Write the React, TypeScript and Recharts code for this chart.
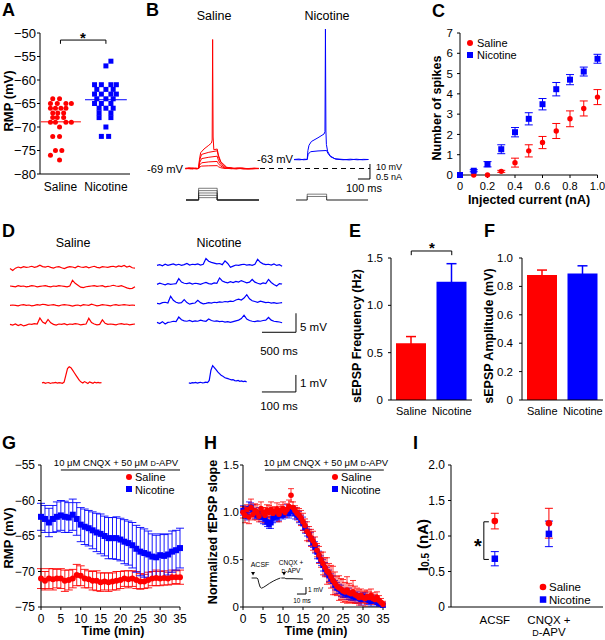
import React from "react"
import {
  ScatterChart, Scatter, LineChart, Line, ComposedChart, Bar,
  XAxis, YAxis, ErrorBar, ReferenceLine,
} from "recharts"

const FONT = '"Liberation Sans", Arial, Helvetica, sans-serif'
const RED = "#ff0000"
const BLUE = "#0000ff"

// ---------- A: RMP of single cells
const groups = ["Saline", "Nicotine"]
const salineRmp = [-64,-64,-65,-65,-65,-65,-66,-66,-66,-66,-67,-67,-67,-68,-68,-68,-69,-69,-69,-69,-70,-72,-72,-75,-75,-76,-77]
const salineJitter = [0.83,0.98,0.78,0.93,1.12,1.24,0.78,0.89,1.01,1.12,0.83,0.94,1.07,0.83,0.93,1.07,0.78,0.89,1.12,1.24,0.98,0.83,0.98,0.89,1.03,0.78,0.98]
const nicotineRmp = [-56,-57,-61,-61,-61,-61,-62,-62,-62,-63,-63,-63,-63,-64,-64,-64,-65,-65,-65,-66,-66,-66,-67,-67,-68,-68,-70,-72,-72]
const nicotineJitter = [2.11,2.0,1.75,1.9,2.11,2.23,1.8,2.0,2.16,1.75,1.9,2.11,2.23,1.8,2.0,2.16,1.75,1.9,2.11,1.85,2.0,2.16,1.85,2.11,1.85,2.11,2.0,1.9,2.06]
const rmpMeans = [-68.9, -64.2]

// ---------- B: example sweeps (ms, mV) and current steps (nA)
const salineSweeps = [
  [[45,-69],[75,-68.6],[105,-69.3],[130,-68.8],[155,-69],[163,-68.1],[180,-67.4],[240,-67.2],[310,-67.1],[320,-67.8],[340,-68.5],[375,-69],[420,-68.6],[470,-69.3],[520,-68.8],[575,-69.2],[620,-68.7],[658,-69]],
  [[45,-69.2],[80,-69],[110,-68.7],[140,-69.3],[155,-69],[163,-66.8],[180,-65.2],[240,-64.6],[310,-64.3],[320,-65.8],[340,-67.5],[375,-68.7],[430,-69.2],[480,-68.7],[530,-69.3],[590,-68.9],[658,-69.1]],
  [[45,-68.8],[90,-69.3],[120,-68.9],[155,-69],[163,-65.2],[180,-62.4],[240,-61.5],[310,-60.8],[320,-63.5],[340,-66.3],[380,-68.5],[440,-69],[500,-68.6],[560,-69.3],[658,-68.9]],
  [[45,-69],[85,-68.7],[125,-69.2],[155,-69],[163,-63.5],[180,-59.6],[240,-58.2],[310,-57.2],[320,-61],[340,-65],[385,-68.3],[450,-69.2],[510,-68.8],[600,-69.2],[658,-69]],
  [[45,-69.1],[100,-68.8],[155,-69],[162,-63],[172,-58.5],[200,-56],[240,-53.5],[262,-52],[268,-50],[272,17],[276,-48],[282,-56.5],[310,-56],[320,-60],[340,-64.5],[390,-68.2],[460,-68.9],[540,-69.2],[658,-69]],
]
const nicotineSweeps = [
  [[950,-63],[990,-62.7],[1030,-63.2],[1060,-63],[1068,-59.5],[1088,-57.8],[1150,-57.3],[1222,-57],[1232,-58.8],[1255,-61.2],[1300,-62.8],[1360,-63.2],[1420,-62.8],[1480,-63.2],[1530,-62.9],[1570,-63]],
  [[950,-63.1],[1000,-63.2],[1040,-62.8],[1060,-63],[1066,-57],[1075,-53.5],[1095,-51],[1150,-48.5],[1200,-46],[1208,-44.5],[1212,24],[1216,-44],[1220,-53],[1230,-57.5],[1250,-60.5],[1290,-62.5],[1350,-62.9],[1410,-63.3],[1470,-62.8],[1520,-63.2],[1570,-63]],
]
const salineSteps = [0.1, 0.2, 0.3, 0.4, 0.5]
const nicotineSteps = [0.15, 0.25]
const salineWindow = [50, 155, 310, 658]
const nicotineWindow = [967, 1060, 1222, 1567]

// ---------- C: input-output
const currentSteps = [0, 0.1, 0.2, 0.3, 0.4, 0.5, 0.6, 0.7, 0.8, 0.9, 1.0]
const salineSpikes = [0, 0, 0, 0.18, 0.61, 1.19, 1.6, 2.17, 2.77, 3.28, 3.84]
const salineSpikesErr = [0, 0, 0, 0.05, 0.22, 0.3, 0.3, 0.37, 0.39, 0.37, 0.37]
const nicotineSpikes = [0, 0.21, 0.53, 1.27, 2.11, 2.77, 3.49, 4.23, 4.7, 5.1, 5.73]
const nicotineSpikesErr = [0, 0.05, 0.13, 0.22, 0.23, 0.3, 0.28, 0.33, 0.25, 0.22, 0.22]

// ---------- D: sEPSP recordings, mV deviation sampled every 40 ms
const D_DT = 40
const salineTraces = [
  [-0.3,-0.8,-0.2,0.1,-0.1,0.2,0.0,0.1,0.3,0.0,0.2,0.6,0.2,0.1,0.3,0.0,-0.2,0.1,0.2,-0.1,-0.3,0.0,0.2,0.1,-0.1,0.3,0.1,0.0,0.2,-0.1,0.1,0.3,0.0,-0.1,0.2,0.1,0.0,0.2,0.3,0.1,0.4,0.2,0.5,0.1,0.3,-0.1,-0.2],
  [0.1,0.0,-0.1,0.2,0.0,0.1,-0.1,0.0,0.2,0.1,-0.1,0.0,0.1,0.2,0.0,-0.1,0.1,0.0,0.2,0.1,0.0,-0.1,0.1,1.6,0.8,0.3,-0.2,-0.3,-0.1,0.0,0.1,0.2,0.0,0.1,0.2,-0.1,0.0,0.1,0.3,0.1,0.0,0.2,-0.1,-0.4,-0.6,-0.5,-0.1],
  [0.0,0.1,0.0,-0.1,0.1,0.2,0.0,0.1,-0.1,0.0,0.2,0.1,0.3,0.2,0.0,0.1,0.2,0.0,-0.1,0.1,0.2,0.1,0.0,-0.2,0.0,0.1,-0.1,0.2,0.1,0.0,0.3,0.1,-0.1,0.0,0.2,0.1,0.0,-0.1,0.1,0.2,0.0,0.1,0.2,0.1,0.0,0.1,0.0],
  [0.0,-0.2,0.1,-0.3,0.0,-0.4,-0.2,0.1,0.0,0.2,0.1,1.7,0.6,0.2,1.3,0.4,0.0,-0.2,0.1,0.0,0.2,-0.1,0.1,0.0,0.2,0.1,-0.1,0.0,0.1,1.6,0.5,0.1,-0.1,0.0,1.2,0.3,0.0,0.1,0.0,-0.1,0.1,0.2,0.0,0.1,-0.1,0.0,0.1],
]
const nicotineTraces = [
  [0.0,0.2,-0.1,0.3,0.0,0.2,0.4,0.1,0.3,0.0,0.2,0.5,0.1,0.3,0.2,0.4,0.1,0.3,1.8,1.1,0.8,0.6,0.4,0.5,0.2,1.2,0.5,-0.5,-0.2,0.1,0.0,0.2,0.3,0.1,0.2,0.0,0.3,1.6,0.8,0.4,0.2,0.3,0.1,0.4,0.0,0.2,-0.2],
  [0.0,0.3,0.1,-0.1,0.2,0.0,0.1,0.2,1.5,0.6,0.3,0.2,0.4,0.1,0.3,0.2,0.0,0.3,0.5,0.2,0.1,0.4,0.3,1.7,0.9,0.6,0.4,0.7,0.5,0.8,0.6,1.0,0.7,0.4,0.6,1.3,0.6,0.3,0.1,0.4,0.2,1.3,0.5,0.0,-0.4,0.2,0.1],
  [0.0,-0.1,0.2,0.3,0.1,1.9,0.8,0.3,0.1,0.2,1.0,0.2,-0.2,0.0,0.1,0.8,0.2,-0.1,0.0,0.2,0.1,0.3,0.2,0.4,0.3,0.5,0.4,0.6,0.5,0.9,1.1,0.9,1.4,2.3,1.2,0.7,0.5,0.3,0.6,0.4,0.2,0.3,0.1,0.2,0.0,0.1,0.2],
  [0.0,-0.3,0.2,-0.4,0.0,0.1,0.3,0.2,1.4,0.7,0.4,0.3,0.5,0.2,0.4,0.3,0.6,0.4,0.3,0.9,0.5,0.3,0.4,0.2,0.3,0.1,0.2,0.0,0.2,0.4,0.6,1.0,1.9,0.9,0.5,0.3,0.2,0.4,0.3,0.5,0.6,1.3,0.6,0.3,0.2,0.1,-0.1],
]
// averaged sEPSP, every 5 ms
const AVG_DT = 5
const AVG_NIC_START = 432
const salineAvg = [0.0,0.03,-0.02,0.01,0.02,-0.03,0.01,0.0,0.03,-0.01,0.02,0.0,-0.02,0.05,0.45,0.85,0.95,0.9,0.75,0.6,0.45,0.3,0.15,0.05,0.0,0.08,0.03,-0.03,0.06,0.02,-0.02,0.05,0.0,0.03,0.01,0.02]
const nicotineAvg = [0.0,-0.02,0.02,0.0,0.03,-0.01,0.02,0.04,0.0,0.02,0.05,0.02,0.15,0.75,1.02,0.9,0.78,0.65,0.55,0.45,0.4,0.32,0.28,0.25,0.22,0.18,0.2,0.14,0.12,0.15,0.1,0.12,0.08,0.1,0.06]

// ---------- E / F
const freqMeans = [0.6, 1.25]
const freqErr = [0.07, 0.19]
const ampMeans = [0.88, 0.89]
const ampErr = [0.035, 0.055]

// ---------- G: RMP time course (1 min bins)
const gSalineRmp = [-71.0,-71.3,-71.0,-71.1,-71.0,-71.0,-71.3,-71.2,-71.0,-70.5,-70.6,-71.0,-71.1,-71.3,-71.3,-71.5,-71.4,-71.5,-71.4,-71.3,-71.2,-71.0,-71.1,-71.0,-71.2,-71.4,-71.4,-71.2,-71.0,-70.9,-71.0,-70.9,-71.0,-70.8,-70.8,-70.8]
const gSalineErr = [1.4,1.3,1.4,1.5,1.3,1.4,1.5,1.4,1.3,1.5,1.4,1.3,1.2,1.3,1.4,1.3,1.2,1.3,1.2,1.3,1.2,1.1,1.2,1.1,1.2,1.1,1.0,1.1,1.0,1.1,1.0,1.0,0.9,1.0,0.9,1.0]
const gNicotineRmp = [-62.3,-62.6,-63.1,-62.6,-62.3,-62.1,-62.3,-62.4,-62.0,-62.6,-63.4,-63.7,-63.9,-64.2,-64.5,-64.7,-65.0,-65.3,-65.3,-65.3,-65.5,-65.8,-66.0,-66.3,-66.8,-67.2,-67.4,-67.6,-67.9,-68.0,-67.7,-67.8,-67.6,-67.2,-67.0,-66.7]
const gNicotineErr = [1.9,1.9,2.0,1.9,2.1,2.1,2.2,2.1,2.2,2.3,2.4,2.5,2.5,2.6,2.7,2.8,2.8,2.9,2.9,3.0,3.0,3.1,3.1,3.2,3.3,3.4,3.4,3.3,3.2,3.1,3.0,3.0,2.9,2.9,2.8,2.8]

// ---------- H: normalized fEPSP slope (0.5 min bins)
const hSaline = [1.00,0.97,1.03,0.95,1.05,0.98,1.02,1.00,0.96,1.04,1.00,0.97,1.02,1.00,1.03,0.99,1.01,1.03,0.98,1.02,1.04,1.00,1.03,1.06,1.18,1.05,1.02,0.99,0.97,0.94,0.90,0.86,0.80,0.77,0.73,0.70,0.66,0.60,0.55,0.50,0.46,0.42,0.38,0.36,0.32,0.28,0.25,0.22,0.20,0.19,0.17,0.16,0.18,0.15,0.14,0.16,0.13,0.12,0.10,0.12,0.10,0.09,0.11,0.10,0.12,0.09,0.08,0.10,0.07,0.05,0.03]
const hSalineErr = [0.06,0.08,0.05,0.07,0.09,0.06,0.07,0.08,0.06,0.07,0.05,0.08,0.06,0.07,0.08,0.06,0.05,0.07,0.08,0.06,0.07,0.05,0.06,0.07,0.07,0.06,0.05,0.06,0.07,0.08,0.09,0.07,0.10,0.08,0.09,0.10,0.08,0.07,0.09,0.08,0.12,0.10,0.14,0.10,0.12,0.15,0.12,0.10,0.13,0.11,0.12,0.10,0.14,0.10,0.09,0.12,0.09,0.08,0.08,0.07,0.06,0.08,0.07,0.06,0.07,0.06,0.05,0.06,0.05,0.04,0.03]
const hNicotine = [1.02,1.00,0.96,1.04,1.05,1.02,0.98,0.97,0.99,0.95,0.95,0.93,0.90,0.87,0.89,0.94,0.96,0.95,0.97,0.99,0.97,1.00,1.02,0.99,1.03,1.01,0.99,0.97,0.95,0.92,0.88,0.84,0.80,0.76,0.72,0.68,0.63,0.58,0.53,0.49,0.44,0.40,0.37,0.33,0.30,0.27,0.23,0.20,0.19,0.17,0.15,0.14,0.13,0.14,0.12,0.11,0.10,0.12,0.09,0.08,0.10,0.11,0.08,0.07,0.06,0.08,0.07,0.05,0.04,0.03,0.02]
const hNicotineErr = [0.05,0.06,0.04,0.07,0.05,0.06,0.05,0.04,0.06,0.05,0.07,0.06,0.05,0.04,0.06,0.05,0.04,0.05,0.06,0.05,0.04,0.05,0.06,0.05,0.04,0.05,0.06,0.05,0.06,0.05,0.07,0.06,0.05,0.06,0.07,0.05,0.06,0.07,0.06,0.05,0.06,0.07,0.05,0.06,0.05,0.06,0.05,0.06,0.05,0.06,0.05,0.04,0.05,0.06,0.05,0.04,0.05,0.04,0.05,0.06,0.05,0.04,0.05,0.04,0.05,0.04,0.03,0.04,0.03,0.02,0.02]
// inset: example fEPSPs (ms, mV)
const acsfTrace = [[4,0],[10,0],[11,-0.15],[12,-0.7],[13.5,-1.3],[15,-1.45],[17,-1.35],[20,-1.1],[24,-0.75],[28,-0.45],[32,-0.2],[36,0]]
const cnqxTrace = [[37,0],[41,0],[42,-0.1],[50,-0.1],[61,-0.15]]
const stimTimes = [5.6, 40]

// ---------- I: half-max current
const iConditions = [["ACSF"], ["CNQX +", "D-APV"]]
const iSaline = [1.21, 1.18]
const iSalineErr = [0.11, 0.21]
const iNicotine = [0.68, 1.03]
const iNicotineErr = [0.1, 0.18]

// ---------- helpers
const PAD = 8
function frame(x0: number, y0: number, x1: number, y1: number, yw = 0, xh = 0) {
  return {
    style: { position: "absolute" as const, left: x0 - yw - PAD, top: y0 - PAD },
    width: x1 - x0 + yw + 2 * PAD,
    height: y1 - y0 + xh + 2 * PAD,
    margin: { top: PAD, right: PAD, bottom: PAD, left: PAD },
  }
}
const sz = (f: any) => ({ width: f.width, height: f.height, margin: f.margin })
const tk = (s: number) => ({ fontSize: s, fill: "#000", fontFamily: FONT })
const neg = (v: number) => (v < 0 ? "\u2212" + Math.abs(v) : String(v))
const dec1 = (v: number) => (v === 0 ? "0" : v.toFixed(1))
const dot = (fill: string, r: number) => (p: any) => <circle cx={p.cx} cy={p.cy} r={r} fill={fill} />
const square = (fill: string, s: number) => (p: any) => (
  <rect x={p.cx - s / 2} y={p.cy - s / 2} width={s} height={s} fill={fill} />
)
const downTri = (p: any) => (
  <polygon points={`${p.cx - 2},${p.cy - 2} ${p.cx + 2},${p.cy - 2} ${p.cx},${p.cy + 1.5}`} fill="#000" />
)
const seg = (x1: any, y1: number, x2: any, y2: number, extra: any = {}) => (
  <ReferenceLine segment={[{ x: x1, y: y1 }, { x: x2, y: y2 }]} stroke="#000" strokeWidth={1} ifOverflow="visible" {...extra} />
)
const pts = (arr: number[][]) => arr.map(([t, v]) => ({ t, v }))
const steps = (levels: number[], w: number[]) =>
  levels.map((L) => [[w[0], 0], [w[1], 0], [w[1], L], [w[2], L], [w[2], 0], [w[3], 0]])

const Txt = ({ x, y, s = 12, b = false, a = "start", r = false, children }: any) => (
  <text x={x} y={y} fontSize={s} fontWeight={b ? "bold" : "normal"} textAnchor={a} fontFamily={FONT} fill="#000"
    transform={r ? `rotate(-90 ${x} ${y})` : undefined} dominantBaseline={r ? "central" : undefined}>
    {children}
  </text>
)
const DApv = ({ s }: any) => (<><tspan fontSize={s * 0.78}>D</tspan>-APV</>)

const ITick = (p: any) => {
  const lines = iConditions[Math.round(p.payload.value) - 1] || []
  return (
    <g>
      {lines.map((l, i) => (
        <text key={i} x={p.x} y={p.y + 12 + i * 11.5} textAnchor="middle" fontSize={11.5} fontFamily={FONT} fill="#000">
          {l === "D-APV" ? <DApv s={11.5} /> : l}
        </text>
      ))}
    </g>
  )
}

// ---------- series
const aSal = salineRmp.map((y, i) => ({ x: salineJitter[i], y }))
const aNic = nicotineRmp.map((y, i) => ({ x: nicotineJitter[i], y }))
const cSal = currentSteps.map((x, i) => ({ x, y: salineSpikes[i], err: salineSpikesErr[i] }))
const cNic = currentSteps.map((x, i) => ({ x, y: nicotineSpikes[i], err: nicotineSpikesErr[i] }))
const freqRows = [
  { name: groups[0], sal: freqMeans[0], salErr: freqErr[0] },
  { name: groups[1], nic: freqMeans[1], nicErr: freqErr[1] },
]
const ampRows = [
  { name: groups[0], sal: ampMeans[0], salErr: ampErr[0] },
  { name: groups[1], nic: ampMeans[1], nicErr: ampErr[1] },
]
const gSal = gSalineRmp.map((y, i) => ({ x: i, y, err: gSalineErr[i] }))
const gNic = gNicotineRmp.map((y, i) => ({ x: i, y, err: gNicotineErr[i] }))
const hSal = hSaline.map((y, i) => ({ x: i * 0.5, y, err: hSalineErr[i] }))
const hNic = hNicotine.map((y, i) => ({ x: i * 0.5, y, err: hNicotineErr[i] }))
const iSal = iSaline.map((y, i) => ({ x: i + 1, y, err: iSalineErr[i] }))
const iNic = iNicotine.map((y, i) => ({ x: i + 1, y, err: iNicotineErr[i] }))

// ---------- frames (plot rectangles in page pixels)
const fA = frame(40, 33, 130, 174, 34, 22)
const fB = frame(180, 20, 384, 179)
const fBi = frame(180, 185, 384, 200)
const fC = frame(460, 33, 597.5, 175, 22, 22)
const fDr = frame(10, 255.6, 135, 335.4)
const fDb = frame(157, 253.6, 300, 333.4)
const fDa = frame(42, 360.05, 300, 394.9)
const fE = frame(391, 258, 472, 400, 34, 20)
const fF = frame(522, 258, 603, 400, 34, 20)
const fG = frame(41, 465, 180, 607, 34, 22)
const fH = frame(243, 465, 383, 607, 30, 22)
const fHi = frame(248, 571, 312, 599)
const fI = frame(451, 465, 603, 607, 30, 34)

const line = (data: any, color: string, key: any, w = 1) => (
  <Line key={key} data={data} dataKey="v" stroke={color} strokeWidth={w} dot={false} activeDot={false} isAnimationActive={false} />
)

export default function App() {
  return (
    <div style={{ position: "absolute", left: 0, top: 0, width: 605, height: 640, overflow: "hidden", background: "#fff", fontFamily: FONT }}>
      {/* A */}
      <div style={fA.style}>
        <ScatterChart {...sz(fA)}>
          <XAxis type="number" dataKey="x" domain={[0.55, 2.53]} ticks={[1, 2]} tickFormatter={(v) => groups[v - 1]}
            tickLine={false} stroke="#000" tick={tk(12)} height={22} />
          <YAxis type="number" dataKey="y" domain={[-80, -50]} ticks={[-80, -75, -70, -65, -60, -55, -50]} tickFormatter={neg}
            width={34} stroke="#000" tick={tk(13)} tickSize={3} tickMargin={1} />
          {seg(0.57, rmpMeans[0], 1.45, rmpMeans[0], { stroke: RED })}
          {seg(1.54, rmpMeans[1], 2.46, rmpMeans[1], { stroke: BLUE })}
          {seg(1, -51.5, 2, -51.5)}
          {seg(1, -51.5, 1, -52.3)}
          {seg(2, -51.5, 2, -52.3)}
          <Scatter data={aSal} shape={dot(RED, 2.5)} isAnimationActive={false} />
          <Scatter data={aNic} shape={square(BLUE, 5)} isAnimationActive={false} />
        </ScatterChart>
      </div>

      {/* B traces */}
      <div style={fB.style}>
        <LineChart {...sz(fB)}>
          <XAxis type="number" dataKey="t" domain={[0, 1700]} hide />
          <YAxis type="number" domain={[-76, 30]} hide />
          {seg(667, -69, 1583, -69, { strokeDasharray: "5 4" })}
          {seg(1583, -76, 1583, -66)}
          {seg(1483, -76, 1583, -76)}
          {salineSweeps.map((s, k) => line(pts(s), RED, "s" + k))}
          {nicotineSweeps.map((s, k) => line(pts(s), BLUE, "n" + k))}
        </LineChart>
      </div>
      <div style={fBi.style}>
        <LineChart {...sz(fBi)}>
          <XAxis type="number" dataKey="t" domain={[0, 1700]} hide />
          <YAxis type="number" domain={[0, 0.64]} hide />
          {steps(salineSteps, salineWindow).map((s, k) => line(pts(s), "#222", "ps" + k, 0.6))}
          {steps(nicotineSteps, nicotineWindow).map((s, k) => line(pts(s), "#222", "pn" + k, 0.6))}
        </LineChart>
      </div>

      {/* C */}
      <div style={fC.style}>
        <ScatterChart {...sz(fC)}>
          <XAxis type="number" dataKey="x" domain={[0, 1]} ticks={[0, 0.2, 0.4, 0.6, 0.8, 1]} tickFormatter={dec1}
            stroke="#000" tick={tk(11)} tickSize={3} tickMargin={4} height={22} />
          <YAxis type="number" dataKey="y" domain={[0, 7]} ticks={[0, 1, 2, 3, 4, 5, 6, 7]}
            width={22} stroke="#000" tick={tk(11.5)} tickSize={3} tickMargin={4} />
          <Scatter data={cSal} shape={dot(RED, 2.7)} isAnimationActive={false}>
            <ErrorBar dataKey="err" direction="y" width={4} stroke={RED} strokeWidth={1} />
          </Scatter>
          <Scatter data={cNic} shape={square(BLUE, 6)} isAnimationActive={false}>
            <ErrorBar dataKey="err" direction="y" width={4} stroke={BLUE} strokeWidth={1} />
          </Scatter>
        </ScatterChart>
      </div>

      {/* D */}
      <div style={fDr.style}>
        <LineChart {...sz(fDr)}>
          <XAxis type="number" dataKey="t" domain={[0, 1840]} hide />
          <YAxis type="number" domain={[-18, 3]} hide />
          {salineTraces.map((tr, k) => line(tr.map((v, i) => ({ t: i * D_DT, v: v - 5 * k })), RED, "dr" + k, 1.2))}
        </LineChart>
      </div>
      <div style={fDb.style}>
        <LineChart {...sz(fDb)}>
          <XAxis type="number" dataKey="t" domain={[0, 2103]} hide />
          <YAxis type="number" domain={[-18, 3]} hide />
          {seg(2044, -17.6, 2044, -12.6)}
          {seg(1544, -17.6, 2044, -17.6)}
          {nicotineTraces.map((tr, k) => line(tr.map((v, i) => ({ t: i * D_DT, v: v - 5 * k })), BLUE, "db" + k, 1.2))}
        </LineChart>
      </div>
      <div style={fDa.style}>
        <LineChart {...sz(fDa)}>
          <XAxis type="number" dataKey="t" domain={[0, 759]} hide />
          <YAxis type="number" domain={[-0.7, 1.35]} hide />
          {seg(747, -0.53, 747, 0.47)}
          {seg(647, -0.53, 747, -0.53)}
          {line(salineAvg.map((v, i) => ({ t: i * AVG_DT, v })), RED, "ar", 1.2)}
          {line(nicotineAvg.map((v, i) => ({ t: AVG_NIC_START + i * AVG_DT, v })), BLUE, "ab", 1.2)}
        </LineChart>
      </div>

      {/* E */}
      <div style={fE.style}>
        <ComposedChart {...sz(fE)} data={freqRows}>
          <XAxis dataKey="name" type="category" tickLine={false} stroke="#000" tick={tk(11)} tickSize={3} tickMargin={4} height={20} />
          <YAxis type="number" domain={[0, 1.5]} ticks={[0, 0.5, 1, 1.5]} tickFormatter={dec1}
            width={34} stroke="#000" tick={tk(11.5)} tickSize={3} tickMargin={5} />
          <Bar dataKey="sal" stackId="a" fill={RED} barSize={30} isAnimationActive={false}>
            <ErrorBar dataKey="salErr" direction="y" width={5} stroke={RED} />
          </Bar>
          <Bar dataKey="nic" stackId="a" fill={BLUE} barSize={30} isAnimationActive={false}>
            <ErrorBar dataKey="nicErr" direction="y" width={5} stroke={BLUE} />
          </Bar>
          {seg(groups[0], 1.574, groups[1], 1.574)}
          {seg(groups[0], 1.574, groups[0], 1.53)}
          {seg(groups[1], 1.574, groups[1], 1.53)}
        </ComposedChart>
      </div>

      {/* F */}
      <div style={fF.style}>
        <ComposedChart {...sz(fF)} data={ampRows}>
          <XAxis dataKey="name" type="category" tickLine={false} stroke="#000" tick={tk(11)} tickSize={3} tickMargin={4} height={20} />
          <YAxis type="number" domain={[0, 1]} ticks={[0, 0.2, 0.4, 0.6, 0.8, 1]} tickFormatter={dec1}
            width={34} stroke="#000" tick={tk(11.5)} tickSize={3} tickMargin={6} />
          <Bar dataKey="sal" stackId="a" fill={RED} barSize={30} isAnimationActive={false}>
            <ErrorBar dataKey="salErr" direction="y" width={5} stroke={RED} />
          </Bar>
          <Bar dataKey="nic" stackId="a" fill={BLUE} barSize={30} isAnimationActive={false}>
            <ErrorBar dataKey="nicErr" direction="y" width={5} stroke={BLUE} />
          </Bar>
        </ComposedChart>
      </div>

      {/* G */}
      <div style={fG.style}>
        <ScatterChart {...sz(fG)}>
          <XAxis type="number" dataKey="x" domain={[0, 35]} ticks={[0, 5, 10, 15, 20, 25, 30, 35]}
            stroke="#000" tick={tk(12)} tickSize={3} tickMargin={4} height={22} />
          <YAxis type="number" dataKey="y" domain={[-75, -55]} ticks={[-75, -70, -65, -60, -55]} tickFormatter={neg}
            width={34} stroke="#000" tick={tk(12)} tickSize={3} tickMargin={3} />
          {seg(5, -55.7, 35, -55.7)}
          <Scatter data={gSal} shape={dot(RED, 3)} isAnimationActive={false}>
            <ErrorBar dataKey="err" direction="y" width={4} stroke={RED} strokeWidth={0.9} />
          </Scatter>
          <Scatter data={gNic} shape={square(BLUE, 6)} isAnimationActive={false}>
            <ErrorBar dataKey="err" direction="y" width={4} stroke={BLUE} strokeWidth={0.9} />
          </Scatter>
        </ScatterChart>
      </div>

      {/* H */}
      <div style={fH.style}>
        <ScatterChart {...sz(fH)}>
          <XAxis type="number" dataKey="x" domain={[0, 35]} ticks={[0, 5, 10, 15, 20, 25, 30, 35]}
            stroke="#000" tick={tk(12)} tickSize={3} tickMargin={4} height={22} />
          <YAxis type="number" dataKey="y" domain={[0, 1.5]} ticks={[0, 0.5, 1, 1.5]} tickFormatter={dec1}
            width={30} stroke="#000" tick={tk(11.5)} tickSize={3} tickMargin={1} />
          {seg(5.5, 1.447, 35.2, 1.447)}
          <Scatter data={hNic} shape={square(BLUE, 5.4)} isAnimationActive={false}>
            <ErrorBar dataKey="err" direction="y" width={3} stroke={BLUE} strokeWidth={0.8} />
          </Scatter>
          <Scatter data={hSal} shape={dot(RED, 2.8)} isAnimationActive={false}>
            <ErrorBar dataKey="err" direction="y" width={3} stroke={RED} strokeWidth={0.8} />
          </Scatter>
        </ScatterChart>
      </div>
      <div style={fHi.style}>
        <ComposedChart {...sz(fHi)}>
          <XAxis type="number" dataKey="t" domain={[0, 71.1]} hide />
          <YAxis type="number" dataKey="v" domain={[-3, 1]} hide />
          {seg(64.4, -2.29, 64.4, -1.29)}
          {seg(54.4, -2.29, 64.4, -2.29)}
          {line(pts(acsfTrace), "#000", "acsf", 0.9)}
          {line(pts(cnqxTrace), "#000", "cnqx", 0.9)}
          <Scatter data={stimTimes.map((t) => ({ t, v: 0.57 }))} dataKey="v" shape={downTri} isAnimationActive={false} />
        </ComposedChart>
      </div>

      {/* I */}
      <div style={fI.style}>
        <ScatterChart {...sz(fI)}>
          <XAxis type="number" dataKey="x" domain={[0.19, 3]} ticks={[1, 2]} tick={<ITick />} tickLine={false}
            stroke="#000" tickSize={3} tickMargin={2} height={34} />
          <YAxis type="number" dataKey="y" domain={[0, 2]} ticks={[0, 0.5, 1, 1.5, 2]} tickFormatter={dec1}
            width={30} stroke="#000" tick={tk(12)} tickSize={3} tickMargin={3} />
          {seg(0.797, 1.2, 0.797, 0.67)}
          {seg(0.797, 1.2, 0.89, 1.2)}
          {seg(0.797, 0.67, 0.89, 0.67)}
          <Scatter data={iSal} shape={dot(RED, 3.3)} isAnimationActive={false}>
            <ErrorBar dataKey="err" direction="y" width={4} stroke={RED} strokeWidth={1} />
          </Scatter>
          <Scatter data={iNic} shape={square(BLUE, 6.5)} isAnimationActive={false}>
            <ErrorBar dataKey="err" direction="y" width={4} stroke={BLUE} strokeWidth={1} />
          </Scatter>
        </ScatterChart>
      </div>

      {/* labels */}
      <svg width={605} height={640} style={{ position: "absolute", left: 0, top: 0, pointerEvents: "none" }}>
        {[["A", 2, 16], ["B", 146, 16], ["C", 432, 17], ["D", 2, 237], ["E", 349, 237], ["F", 484, 237], ["G", 2, 449], ["H", 204, 449], ["I", 413, 449]].map(
          ([l, x, y]: any) => <Txt key={l} x={x} y={y} s={18} b>{l}</Txt>
        )}
        {/* A */}
        <Txt x={8} y={101} s={13} b r a="middle">RMP (mV)</Txt>
        <Txt x={83} y={43} s={15} b a="middle">*</Txt>
        {/* B */}
        <Txt x={214} y={20} s={12.5} a="middle">Saline</Txt>
        <Txt x={327} y={20} s={12.5} a="middle">Nicotine</Txt>
        <Txt x={183} y={173} s={11.2} a="end">-69 mV</Txt>
        <Txt x={293} y={163} s={11.2} a="end">-63 mV</Txt>
        <Txt x={376} y={170} s={9}>10 mV</Txt>
        <Txt x={376} y={180} s={9}>0.5 nA</Txt>
        <Txt x={364} y={192} s={11} a="middle">100 ms</Txt>
        {/* C */}
        <circle cx={470} cy={43} r={3} fill={RED} />
        <Txt x={477} y={46.5} s={11}>Saline</Txt>
        <rect x={467} y={52} width={6} height={6} fill={BLUE} />
        <Txt x={477} y={59} s={11}>Nicotine</Txt>
        <Txt x={437} y={108} s={12.5} b r a="middle">Number of spikes</Txt>
        <Txt x={529} y={204} s={12.5} b a="middle">Injected current (nA)</Txt>
        {/* D */}
        <Txt x={73} y={247} s={12.5} a="middle">Saline</Txt>
        <Txt x={219} y={247} s={12.5} a="middle">Nicotine</Txt>
        <Txt x={300} y={331} s={11.5}>5 mV</Txt>
        <Txt x={279} y={355} s={11.5} a="middle">500 ms</Txt>
        <Txt x={300} y={387} s={11.5}>1 mV</Txt>
        <Txt x={279} y={410} s={11.5} a="middle">100 ms</Txt>
        {/* E F */}
        <Txt x={432} y={253} s={15} b a="middle">*</Txt>
        <Txt x={357} y={336} s={12.5} b r a="middle">sEPSP Frequency (Hz)</Txt>
        <Txt x={489} y={336} s={12.5} b r a="middle">sEPSP Amplitude (mV)</Txt>
        {/* G */}
        <Txt x={116} y={466} s={9.5} a="middle">10 μM CNQX + 50 μM <DApv s={9.5} /></Txt>
        <circle cx={129} cy={477} r={3} fill={RED} />
        <Txt x={135} y={481} s={11}>Saline</Txt>
        <rect x={126} y={486} width={6} height={6} fill={BLUE} />
        <Txt x={135} y={493.5} s={11}>Nicotine</Txt>
        <Txt x={8} y={538} s={13} b r a="middle">RMP (mV)</Txt>
        <Txt x={113} y={635} s={12.5} b a="middle">Time (min)</Txt>
        {/* H */}
        <Txt x={326} y={466} s={9.5} a="middle">10 μM CNQX + 50 μM <DApv s={9.5} /></Txt>
        <circle cx={335} cy={477} r={3} fill={RED} />
        <Txt x={341} y={481} s={11}>Saline</Txt>
        <rect x={332} y={486} width={6} height={6} fill={BLUE} />
        <Txt x={341} y={493.5} s={11}>Nicotine</Txt>
        <Txt x={213} y={532} s={12.5} b r a="middle">Normalized fEPSP slope</Txt>
        <Txt x={316} y={635} s={12.5} b a="middle">Time (min)</Txt>
        <Txt x={260} y={567} s={7} a="middle">ACSF</Txt>
        <Txt x={291} y={564.5} s={6.5} a="middle">CNQX +</Txt>
        <Txt x={291} y={572.5} s={6.5} a="middle"><DApv s={6.5} /></Txt>
        <Txt x={308} y={592} s={6.5}>1 mV</Txt>
        <Txt x={302} y={603} s={6.5} a="middle">10 ms</Txt>
        {/* I */}
        <Txt x={478} y={553} s={20} b a="middle">*</Txt>
        <circle cx={543} cy={587} r={3.3} fill={RED} />
        <Txt x={549} y={591} s={11.5}>Saline</Txt>
        <rect x={539.8} y={596.3} width={6.5} height={6.5} fill={BLUE} />
        <Txt x={549} y={604} s={11.5}>Nicotine</Txt>
        <text x={422} y={545} fontSize={15} fontWeight="bold" fontFamily={FONT} textAnchor="middle" dominantBaseline="central" transform="rotate(-90 422 545)">
          I<tspan fontSize={10} dy={3}>0.5</tspan><tspan dy={-3}> (nA)</tspan>
        </text>
      </svg>
    </div>
  )
}
